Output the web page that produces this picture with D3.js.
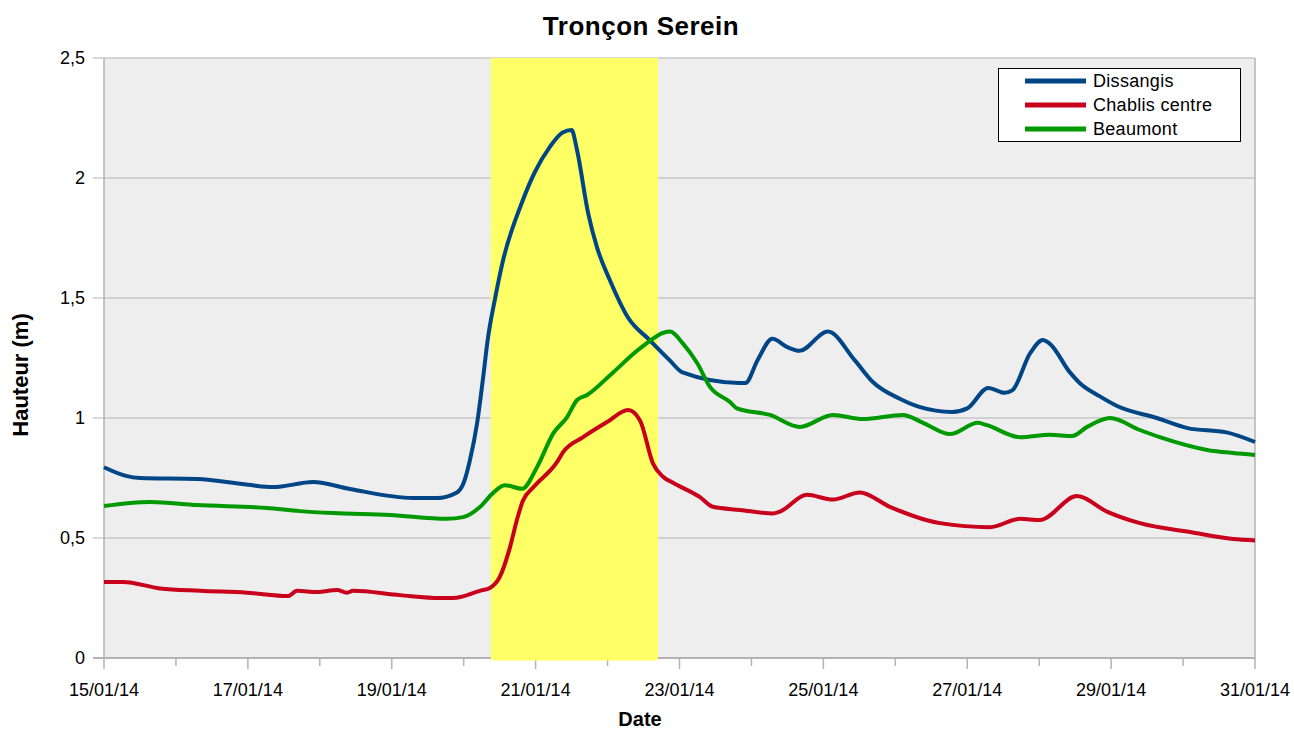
<!DOCTYPE html>
<html><head><meta charset="utf-8">
<script src="https://d3js.org/d3.v7.min.js"></script>
<style>body{margin:0;background:#fff;}svg{display:block;font-family:"Liberation Sans",Arial,sans-serif;}</style>
</head><body>
<svg id="chart" width="1294" height="729"></svg>
<script>
const title = "Tronçon Serein";
const xTitle = "Date";
const yTitle = "Hauteur (m)";
const seriesNames = ["Dissangis", "Chablis centre", "Beaumont"];
const seriesColors = ["#004586", "#c9001c", "#009900"];
const yTicks = [0, 0.5, 1, 1.5, 2, 2.5];
const xDomain = ["2014-01-15 00:00", "2014-01-31 00:00"];
const highlightBand = ["2014-01-20 09:05", "2014-01-22 16:50"];

const dissangis = [
["2014-01-15 00:00",0.795],["2014-01-15 07:00",0.76],["2014-01-15 12:00",0.75],["2014-01-16 07:00",0.746],
["2014-01-17 00:00",0.722],["2014-01-17 08:25",0.712],["2014-01-17 21:45",0.733],["2014-01-18 10:05",0.704],
["2014-01-19 07:05",0.667],["2014-01-19 15:05",0.667],["2014-01-19 21:45",0.69],["2014-01-20 00:00",0.73],
["2014-01-20 02:00",0.82],["2014-01-20 04:30",0.98],["2014-01-20 06:30",1.17],["2014-01-20 08:00",1.325],
["2014-01-20 10:30",1.50],["2014-01-20 13:00",1.65],["2014-01-20 19:30",1.90],["2014-01-20 23:45",2.025],
["2014-01-21 04:45",2.13],["2014-01-21 09:00",2.19],["2014-01-21 12:00",2.20],["2014-01-21 13:45",2.12],
["2014-01-21 17:30",1.855],["2014-01-21 20:30",1.71],["2014-01-22 00:45",1.575],["2014-01-22 06:45",1.42],
["2014-01-22 14:00",1.325],["2014-01-22 20:45",1.24],["2014-01-23 01:00",1.19],["2014-01-23 20:00",1.146],
["2014-01-23 22:00",1.146],["2014-01-24 02:00",1.24],["2014-01-24 07:00",1.33],["2014-01-24 12:00",1.295],
["2014-01-24 16:00",1.28],["2014-01-25 01:30",1.36],["2014-01-25 10:30",1.24],["2014-01-25 16:30",1.15],
["2014-01-26 01:30",1.08],["2014-01-26 08:00",1.046],["2014-01-26 19:00",1.025],["2014-01-27 00:00",1.04],
["2014-01-27 07:00",1.125],["2014-01-27 12:30",1.105],["2014-01-27 15:00",1.115],["2014-01-27 21:00",1.27],
["2014-01-28 01:15",1.325],["2014-01-28 03:30",1.31],["2014-01-28 10:15",1.19],["2014-01-28 13:30",1.146],
["2014-01-28 20:15",1.09],["2014-01-29 02:00",1.05],["2014-01-29 15:15",1.0],["2014-01-30 01:30",0.958],
["2014-01-30 14:30",0.94],["2014-01-31 00:00",0.90]
];
const chablis = [
["2014-01-15 00:00",0.317],["2014-01-15 06:20",0.317],["2014-01-15 18:40",0.29],["2014-01-16 08:00",0.28],
["2014-01-16 23:40",0.272],["2014-01-17 13:25",0.258],["2014-01-17 16:25",0.28],["2014-01-17 23:05",0.275],
["2014-01-18 05:45",0.283],["2014-01-18 09:05",0.272],["2014-01-18 11:05",0.28],["2014-01-19 02:45",0.262],
["2014-01-19 16:05",0.25],["2014-01-19 20:25",0.25],["2014-01-20 05:25",0.28],["2014-01-20 08:45",0.292],
["2014-01-20 12:00",0.337],["2014-01-20 15:25",0.46],["2014-01-20 17:45",0.575],["2014-01-20 19:45",0.655],
["2014-01-20 23:10",0.71],["2014-01-21 07:10",0.817],["2014-01-21 09:10",0.858],["2014-01-21 15:50",0.92],
["2014-01-21 23:50",0.983],["2014-01-22 06:50",1.033],["2014-01-22 10:50",0.99],["2014-01-22 15:10",0.81],
["2014-01-22 18:30",0.755],["2014-01-22 21:50",0.73],["2014-01-23 06:50",0.67],["2014-01-23 11:10",0.63],
["2014-01-23 20:10",0.617],["2014-01-24 07:10",0.602],["2014-01-24 09:30",0.61],["2014-01-24 18:30",0.68],
["2014-01-25 03:10",0.66],["2014-01-25 12:10",0.69],["2014-01-25 22:10",0.63],["2014-01-26 14:55",0.562],
["2014-01-27 07:35",0.545],["2014-01-27 17:35",0.58],["2014-01-28 00:15",0.575],["2014-01-28 12:35",0.675],
["2014-01-28 22:35",0.61],["2014-01-29 09:35",0.562],["2014-01-30 02:20",0.525],["2014-01-30 16:40",0.496],
["2014-01-31 00:00",0.49]
];
const beaumont = [
["2014-01-15 00:00",0.633],["2014-01-15 15:20",0.65],["2014-01-16 07:00",0.637],["2014-01-17 06:20",0.625],
["2014-01-17 17:25",0.612],["2014-01-18 04:25",0.604],["2014-01-18 23:25",0.596],["2014-01-19 18:25",0.58],
["2014-01-19 23:50",0.587],["2014-01-20 05:25",0.629],["2014-01-20 09:45",0.687],["2014-01-20 13:45",0.72],
["2014-01-20 19:30",0.705],["2014-01-21 00:30",0.796],["2014-01-21 05:50",0.935],["2014-01-21 10:30",1.004],
["2014-01-21 13:50",1.075],["2014-01-21 17:10",1.096],["2014-01-22 01:50",1.19],["2014-01-22 10:50",1.29],
["2014-01-22 20:50",1.36],["2014-01-23 01:10",1.31],["2014-01-23 05:50",1.23],["2014-01-23 10:10",1.13],
["2014-01-23 16:50",1.067],["2014-01-23 19:10",1.04],["2014-01-24 06:10",1.013],["2014-01-24 16:10",0.963],
["2014-01-25 03:10",1.013],["2014-01-25 13:10",0.996],["2014-01-26 02:30",1.013],["2014-01-26 09:15",0.98],
["2014-01-26 18:15",0.933],["2014-01-27 03:35",0.98],["2014-01-27 06:35",0.97],["2014-01-27 17:35",0.92],
["2014-01-28 03:35",0.93],["2014-01-28 11:00",0.925],["2014-01-28 16:00",0.963],["2014-01-28 23:40",1.0],
["2014-01-29 09:35",0.95],["2014-01-29 16:15",0.92],["2014-01-30 08:00",0.867],["2014-01-30 16:40",0.854],
["2014-01-31 00:00",0.846]
];

(function () {
const parse = d3.utcParse("%Y-%m-%d %H:%M");
const svg = d3.select("#chart");
const pL = 104, pR = 1255, pT = 58, pB = 658;
const x = d3.scaleUtc().domain(xDomain.map(parse)).range([pL, pR]);
const y = d3.scaleLinear().domain([0, 2.5]).range([pB, pT]);
const grey = "#b3b3b3";

svg.append("rect").attr("x", pL).attr("y", pT).attr("width", pR - pL).attr("height", pB - pT).attr("fill", "#eeeeee");

svg.append("g").selectAll("line").data(yTicks).join("line")
  .attr("x1", pL - 11).attr("x2", pR).attr("y1", d => y(d)).attr("y2", d => y(d))
  .attr("stroke", grey).attr("stroke-width", 1.2);

svg.append("g").selectAll("text").data(yTicks).join("text")
  .attr("x", 85).attr("y", d => y(d)).attr("dy", "0.36em").attr("text-anchor", "end")
  .attr("font-size", 18).attr("fill", "#000")
  .text(d => String(d).replace(".", ","));

svg.append("line").attr("x1", pL).attr("x2", pL).attr("y1", pT).attr("y2", pB).attr("stroke", grey).attr("stroke-width", 1.5);
svg.append("line").attr("x1", pR).attr("x2", pR).attr("y1", pT).attr("y2", pB).attr("stroke", grey).attr("stroke-width", 1.5);
svg.append("line").attr("x1", pL - 11).attr("x2", pR).attr("y1", pB).attr("y2", pB).attr("stroke", grey).attr("stroke-width", 2);

const days = d3.utcDay.range(x.domain()[0], d3.utcDay.offset(x.domain()[1], 1));
svg.append("g").selectAll("line").data(days).join("line")
  .attr("x1", d => x(d)).attr("x2", d => x(d)).attr("y1", pB)
  .attr("y2", (d, i) => pB + (i % 2 === 0 ? 11 : 8))
  .attr("stroke", grey).attr("stroke-width", 1.5);
const fmt = d3.utcFormat("%d/%m/%y");
svg.append("g").selectAll("text").data(days.filter((d, i) => i % 2 === 0)).join("text")
  .attr("x", d => x(d)).attr("y", 696).attr("text-anchor", "middle")
  .attr("font-size", 18).attr("fill", "#000").text(d => fmt(d));

const bx0 = x(parse(highlightBand[0])), bx1 = x(parse(highlightBand[1])), bTop = pT, bBot = pB + 2.5, r = 3;
svg.append("path")
  .attr("d", `M${bx0},${bTop}H${bx1}V${bBot - r}Q${bx1},${bBot} ${bx1 - r},${bBot}H${bx0 + r}Q${bx0},${bBot} ${bx0},${bBot - r}Z`)
  .attr("fill", "#ffff66");

const line = d3.line().x(d => x(parse(d[0]))).y(d => y(d[1])).curve(d3.curveMonotoneX);
[dissangis, chablis, beaumont].forEach((s, i) => {
  svg.append("path").datum(s).attr("d", line).attr("fill", "none")
    .attr("stroke", seriesColors[i]).attr("stroke-width", 4).attr("stroke-linejoin", "round");
});

const lg = svg.append("g");
lg.append("rect").attr("x", 998.5).attr("y", 68.5).attr("width", 242).attr("height", 73)
  .attr("fill", "#fff").attr("stroke", "#000").attr("stroke-width", 1);
seriesNames.forEach((n, i) => {
  const ly = 81 + i * 24;
  lg.append("line").attr("x1", 1025).attr("x2", 1086).attr("y1", ly).attr("y2", ly)
    .attr("stroke", seriesColors[i]).attr("stroke-width", 5);
  lg.append("text").attr("x", 1093).attr("y", ly).attr("dy", "0.36em").attr("font-size", 18)
    .attr("letter-spacing", 0.3).attr("fill", "#000").text(n);
});

svg.append("text").attr("x", 641).attr("y", 35).attr("text-anchor", "middle")
  .attr("font-size", 26).attr("letter-spacing", 0.5).attr("font-weight", "bold").text(title);
svg.append("text").attr("x", 640).attr("y", 726).attr("text-anchor", "middle")
  .attr("font-size", 20).attr("font-weight", "bold").text(xTitle);
svg.append("text").attr("transform", "translate(28,375) rotate(-90)").attr("text-anchor", "middle")
  .attr("font-size", 22).attr("font-weight", "bold").text(yTitle);
})();
</script>
</body></html>
